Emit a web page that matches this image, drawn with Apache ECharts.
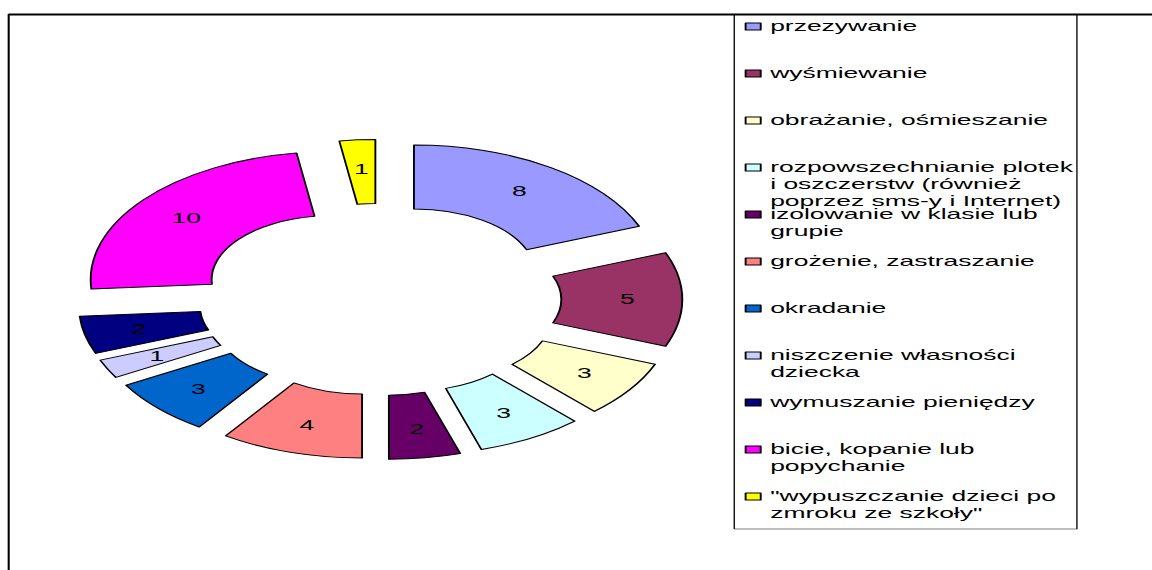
<!DOCTYPE html>
<html>
<head>
<meta charset="utf-8">
<script src="https://cdn.jsdelivr.net/npm/echarts@6/dist/echarts.min.js"></script>
<style>
html, body { margin: 0; padding: 0; background: #fff; overflow: hidden; }
#main { position: absolute; left: 0; top: 0; height: 570px; transform-origin: 0 0; }
</style>
</head>
<body>
<div id="main"></div>
<script>
// categories, clockwise from the top of the ring
var categories = ['przezywanie', 'wyśmiewanie', 'obrażanie, ośmieszanie',
    'rozpowszechnianie plotek i oszczerstw (również poprzez sms-y i Internet)',
    'izolowanie w klasie lub grupie', 'grożenie, zastraszanie', 'okradanie',
    'niszczenie własności dziecka', 'wymuszanie pieniędzy',
    'bicie, kopanie lub popychanie', '"wypuszczanie dzieci po zmroku ze szkoły"'];
var values = [8, 5, 3, 3, 2, 4, 3, 1, 2, 10, 1];
var colors = ['#9999FF', '#993366', '#FFFFCC', '#CCFFFF', '#660066', '#FF8080',
    '#0066CC', '#CCCCFF', '#000080', '#FF00FF', '#FFFF00'];
// legend text as wrapped in the picture
var legendLabels = ['przezywanie', 'wyśmiewanie', 'obrażanie, ośmieszanie',
    'rozpowszechnianie plotek\ni oszczerstw (również\npoprzez sms-y i Internet)',
    'izolowanie w klasie lub\ngrupie', 'grożenie, zastraszanie', 'okradanie',
    'niszczenie własności\ndziecka', 'wymuszanie pieniędzy',
    'bicie, kopanie lub\npopychanie', '"wypuszczanie dzieci po\nzmroku ze szkoły"'];

// the original picture is stretched sideways, so draw narrow and stretch
var SX = 1.89;
var LH = 17;
var FONT = '"Liberation Sans", Arial, sans-serif';
var el = document.getElementById('main');
el.style.width = (1152 / SX) + 'px';
el.style.transform = 'scaleX(' + SX + ')';

var myChart = echarts.init(el, null, { renderer: 'svg' });

// one legend per entry so the swatches stay evenly spaced;
// the swatch sits beside the first text line, extra lines hang below
var legends = categories.map(function (name, i) {
    var n = legendLabels[i].split('\n').length;
    return {
        orient: 'vertical',
        left: 394,
        top: 26 + 47 * i - LH / 2,
        padding: 0,
        data: [name],
        selectedMode: false,
        icon: 'path://M0,5h8v7h-8zM0,0M8,' + (n * LH),
        itemWidth: 8,
        itemHeight: n * LH,
        itemStyle: { borderColor: '#000', borderWidth: 1 },
        textStyle: { fontFamily: FONT, fontSize: 14, lineHeight: LH, color: '#000' },
        formatter: function () { return legendLabels[i]; }
    };
});

var option = {
    animation: false,
    backgroundColor: '#fff',
    legend: legends,
    graphic: [
        { type: 'line', shape: { x1: 4.5, y1: 14.5, x2: 700, y2: 14.5 }, style: { stroke: '#000', lineWidth: 2 } },
        { type: 'line', shape: { x1: 4.6, y1: 14, x2: 4.6, y2: 600 }, style: { stroke: '#000', lineWidth: 1.1 } },
        { type: 'rect', shape: { x: 388.5, y: 14.5, width: 181.3, height: 514.5 },
          style: { fill: 'none', stroke: '#000', lineWidth: 0.7 } }
    ],
    series: [{
        type: 'pie',
        center: [201, 299.5],
        radius: [64, 128],
        startAngle: 90,
        clockwise: true,
        selectedMode: 'multiple',
        selectedOffset: 32,
        avoidLabelOverlap: false,
        label: { show: true, position: 'inside', formatter: '{c}', color: '#000', fontSize: 14, fontFamily: FONT },
        labelLine: { show: false },
        itemStyle: { borderColor: '#000', borderWidth: 1 },
        emphasis: { disabled: true },
        select: { itemStyle: { borderColor: '#000', borderWidth: 1 }, label: { color: '#000' } },
        data: categories.map(function (name, i) {
            return { name: name, value: values[i], selected: true, itemStyle: { color: colors[i] } };
        })
    }]
};

myChart.setOption(option);
</script>
</body>
</html>
